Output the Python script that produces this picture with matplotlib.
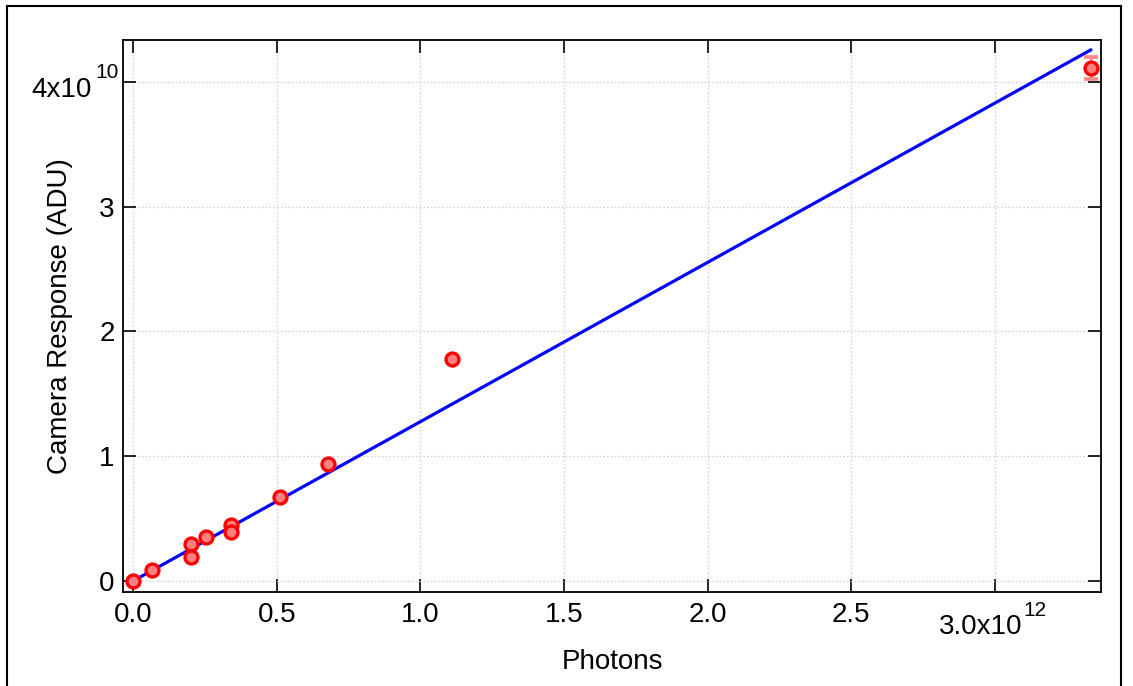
import matplotlib
matplotlib.use("Agg")
import matplotlib.pyplot as plt
import matplotlib.transforms as mtransforms
from matplotlib.lines import Line2D

plt.rcParams['font.family'] = ['Liberation Sans', 'DejaVu Sans']

# Data (photons, ADU)
photons = [0.0, 0.066e12, 0.202e12, 0.202e12, 0.254e12, 0.341e12, 0.341e12,
           0.512e12, 0.679e12, 1.110e12, 3.335e12]
adu = [0.0, 0.088e10, 0.296e10, 0.19e10, 0.35e10, 0.449e10, 0.393e10,
       0.673e10, 0.937e10, 1.779e10, 4.11e10]
adu_err = [0.01e10, 0.01e10, 0.01e10, 0.01e10, 0.01e10, 0.01e10, 0.01e10,
           0.01e10, 0.01e10, 0.01e10, 0.085e10]
fit_x = [0.0, 3.333e12]
fit_y = [0.0, 4.255e10]

xticks = [0, 0.5e12, 1.0e12, 1.5e12, 2.0e12, 2.5e12, 3.0e12]
xticklabels = ['0.0', '0.5', '1.0', '1.5', '2.0', '2.5', '']
x_last_label = ('3.0x10', '12')
yticks = [0, 1e10, 2e10, 3e10, 4e10]
yticklabels = ['0', '1', '2', '3', '']
y_last_label = ('4x10', '10')

FS = 20
SUP = 15

fig = plt.figure(figsize=(11.33, 6.86), dpi=100)
ax = fig.add_axes([123/1133, 1-592/686, (1101-123)/1133, (592-40)/686])

ax.plot(fit_x, fit_y, color='#0000ff', lw=2.3, zorder=3)
ax.errorbar(photons, adu, yerr=adu_err, fmt='none', ecolor='#ff8c8c',
            elinewidth=1.5, capsize=4.9, capthick=2.8, zorder=4)
ax.plot(photons, adu, 'o', ms=9.3, mfc='#ff8080', mec='#ff0000', mew=2.4, zorder=5)

ax.set_xlim(-0.035e12, 3.369e12)
ax.set_ylim(-0.088e10, 4.335e10)

ax.set_xticks(xticks)
ax.set_xticklabels(xticklabels, fontsize=FS)
ax.set_yticks(yticks)
ax.set_yticklabels(yticklabels, fontsize=FS)

ax.tick_params(direction='in', length=9.5, width=1.2, top=True, right=True,
               labelsize=FS, color='black')
ax.tick_params(axis='x', pad=7)
ax.tick_params(axis='y', pad=6)

for s in ax.spines.values():
    s.set_linewidth(1.3)

ax.grid(True, color='#c8c8c8', linestyle=(0, (1, 2)), linewidth=0.9, zorder=0)
ax.set_axisbelow(True)

# composite x label "3.0x10^12"
tx = mtransforms.blended_transform_factory(ax.transData, fig.transFigure)
ax.text(xticks[-1], 1-634/686, x_last_label[0], fontsize=FS, ha='right', va='baseline',
        transform=mtransforms.offset_copy(tx, fig=fig, x=27, y=0, units='dots'),
        clip_on=False)
ax.text(xticks[-1], 1-616/686, x_last_label[1], fontsize=SUP, ha='left', va='baseline',
        transform=mtransforms.offset_copy(tx, fig=fig, x=28, y=0, units='dots'),
        clip_on=False)

# composite y label "4x10^10"
ty = mtransforms.blended_transform_factory(ax.transAxes, ax.transData)
ax.text(0, yticks[-1], y_last_label[0], fontsize=FS, ha='right', va='baseline',
        transform=mtransforms.offset_copy(ty, fig=fig, x=-31, y=-15, units='dots'),
        clip_on=False)
ax.text(0, yticks[-1], y_last_label[1], fontsize=SUP, ha='left', va='baseline',
        transform=mtransforms.offset_copy(ty, fig=fig, x=-28, y=4, units='dots'),
        clip_on=False)

ax.set_xlabel('Photons', fontsize=FS)
ax.set_ylabel('Camera Response (ADU)', fontsize=FS)
ax.xaxis.set_label_coords(0.5, -0.103)
ax.yaxis.set_label_coords(-0.051, 0.5)

# outer frame (left, top, right)
for xs, ys in [([7/1133, 7/1133], [0, 1-6/686]),
               ([7/1133, 1121/1133], [1-6/686, 1-6/686]),
               ([1121/1133, 1121/1133], [0, 1-6/686])]:
    fig.add_artist(Line2D(xs, ys, color='black', lw=1.5, transform=fig.transFigure))

fig.savefig('out.png', dpi=100)
